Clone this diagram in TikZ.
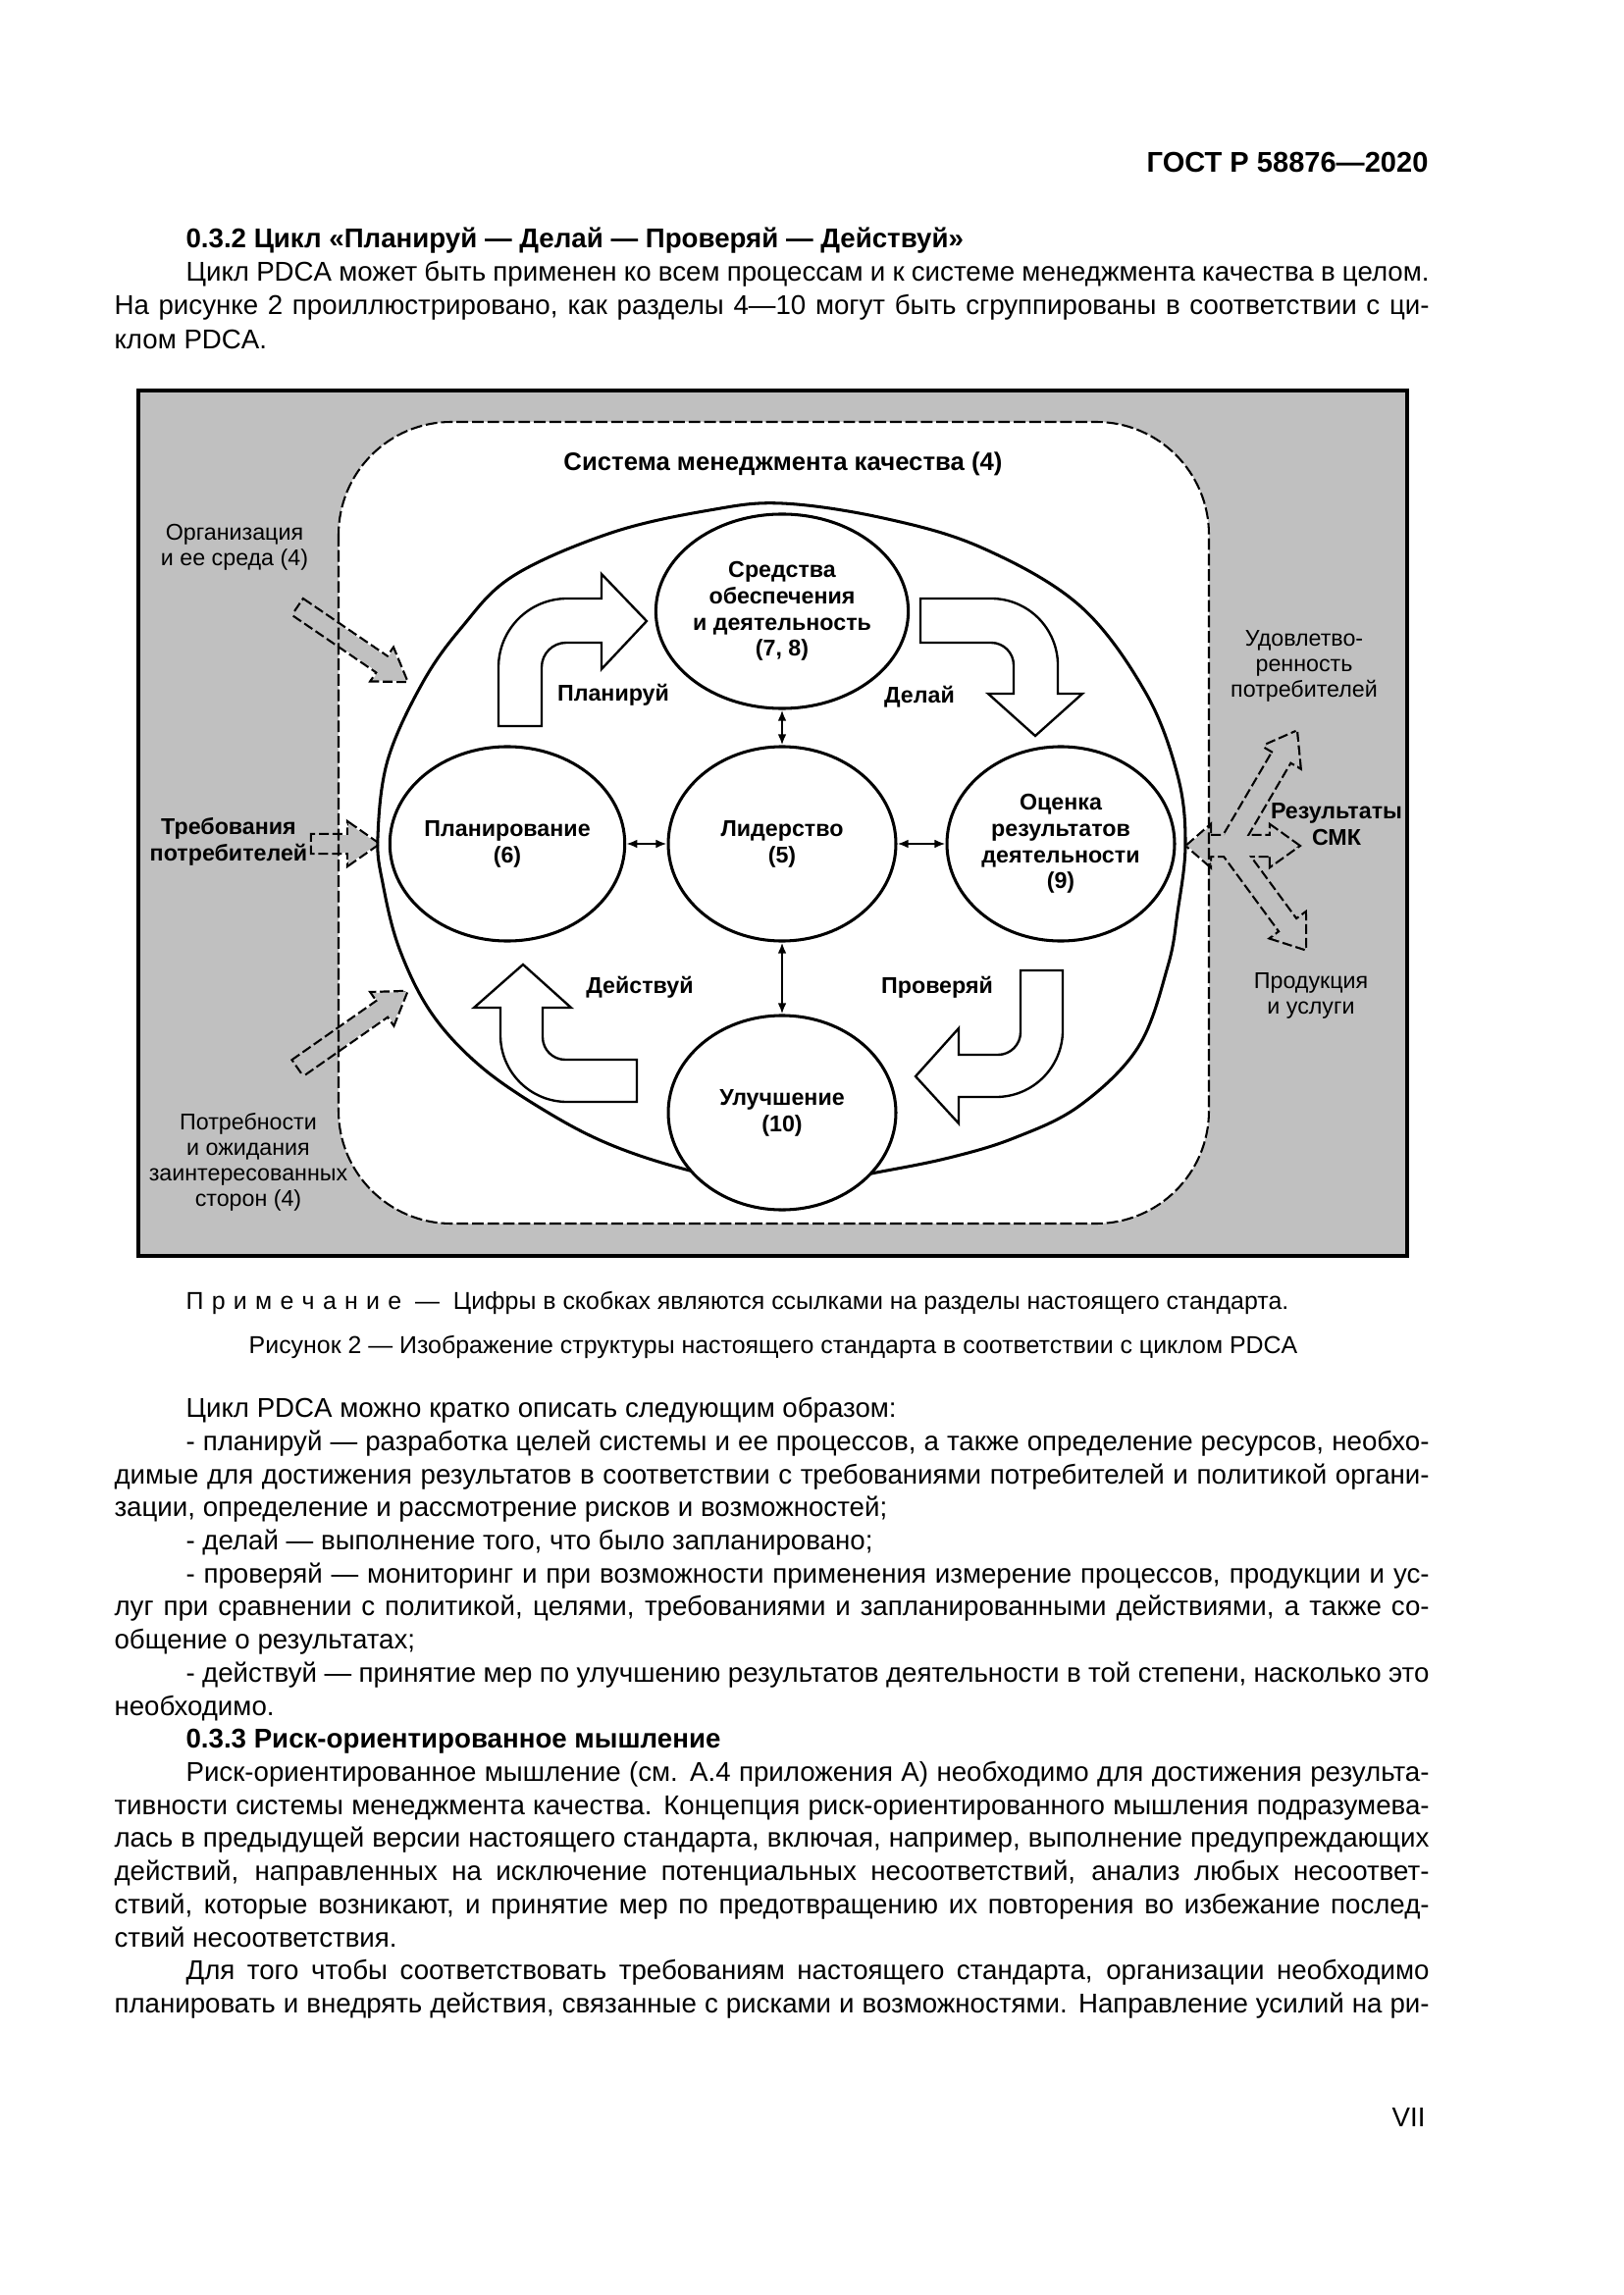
\documentclass[tikz,border=0pt]{standalone}
\usepackage{fontspec}
\setmainfont{Liberation Sans}
\usetikzlibrary{shapes.geometric,arrows.meta}
\definecolor{boxgray}{RGB}{192,192,192}
\newcommand\bodyfnt{\fontsize{10pt}{12pt}\selectfont}
\newcommand\dgb{\fontsize{8.4pt}{9.7pt}\selectfont\bfseries}
\newcommand\dgr{\fontsize{8.4pt}{9.4pt}\selectfont}
\newcommand\capfnt{\fontsize{9pt}{11pt}\selectfont}
\newcommand\gpoly[8]{\begin{scope}[shift={(#1,#2)},rotate=#3]\path[#8] (0,0) -- (-#7,#6) -- (-#7,#5) -- (-#4,#5) -- (-#4,-#5) -- (-#7,-#5) -- (-#7,-#6) -- cycle;\end{scope}}
\newcommand\jl[4]{\node[anchor=base west,inner sep=0pt,font=\bodyfnt] (#1) at (#2) {\hbox to #3{#4}};}
\newcommand\pl[3]{\node[anchor=base west,inner sep=0pt,font=\bodyfnt] (#1) at (#2) {#3};}
\newcommand\garrows[1]{%
  \gpoly{414}{694}{-34.3}{133}{9}{19}{29}{#1}
  \gpoly{385}{860}{0}{67}{9}{21}{30}{#1}
  \gpoly{414}{1011}{35}{134}{9}{19}{29}{#1}
  \gpoly{1321}{746}{59.6}{134}{10}{21}{29}{#1}
  \gpoly{1330}{967}{-53.7}{130}{10}{21}{29}{#1}
  \path[#1] (1210,862) -- (1233,842) -- (1233,852) -- (1295,852) -- (1295,842) -- (1323,862) -- (1295,882) -- (1295,872) -- (1233,872) -- (1233,882) -- cycle;}
\begin{document}
\begin{tikzpicture}[x=0.127mm,y=-0.127mm,
  nd/.style={ellipse,draw,line width=1.1pt,fill=white,minimum width=29.46mm,minimum height=25.15mm,inner sep=0pt,align=center,font=\dgb},
  lblb/.style={align=center,inner sep=0pt,font=\dgb},
  lblr/.style={align=center,inner sep=0pt,font=\dgr},
  dbl/.style={{Latex[length=1.4mm,width=1.1mm]}-{Latex[length=1.4mm,width=1.1mm]},line width=0.75pt},
  blk/.style={draw,line width=0.85pt,fill=white,line join=miter},
  gout/.style={draw,line width=1.6pt,dash pattern=on 3.6pt off 1.4pt},
  gfill/.style={fill=boxgray}]
\useasboundingbox (0,0) rectangle (1654,2339);
\fill[white] (0,0) rectangle (1654,2339);
% frame
\draw[line width=1.4pt,fill=boxgray] (141,398) rectangle (1434,1280);
\fill[white,rounded corners=14.6mm] (345,430) rectangle (1232,1247);
% gray block arrows
\garrows{gout}
\garrows{gfill}
\draw[line width=0.75pt,dash pattern=on 4.3pt off 1.4pt,rounded corners=14.6mm] (345,430) rectangle (1232,1247);
% big oval
\draw[line width=1.1pt] plot[smooth cycle,tension=0.6] coordinates {(797,513) (900,528) (1000,558) (1100,617) (1167,705) (1200,790) (1208,860) (1200,930) (1190,985) (1160,1067) (1100,1127) (1033,1160) (967,1180) (893,1195) (797,1212) (703,1193) (623,1167) (557,1133) (490,1087) (440,1033) (407,967) (390,900) (385,853) (395,775) (430,697) (470,640) (523,587) (623,543) (723,520)};
% PDCA arrows
\draw[blk] (508,740) -- (508,680) .. controls (508,641.3) and (539.3,610) .. (578,610) -- (613,610) -- (613,585) -- (659,633) -- (613,682) -- (613,655) -- (577,655) .. controls (563.2,655) and (552,666.2) .. (552,680) -- (552,740) -- cycle;
\draw[blk] (938,610) -- (1010,610) .. controls (1047.6,610) and (1078,640.4) .. (1078,678) -- (1078,707) -- (1103,707) -- (1055,750) -- (1007,707) -- (1033,707) -- (1033,678) .. controls (1033,665.3) and (1022.7,655) .. (1010,655) -- (938,655) -- cycle;
\draw[blk] (649,1123) -- (578,1123) .. controls (540.4,1123) and (510,1092.6) .. (510,1055) -- (510,1027) -- (483,1027) -- (533,983) -- (582,1027) -- (553,1027) -- (553,1057) .. controls (553,1069.7) and (563.3,1080) .. (576,1080) -- (649,1080) -- cycle;
\draw[blk] (1040,989) -- (1083,989) -- (1083,1050) .. controls (1083,1087.6) and (1052.6,1118) .. (1015,1118) -- (977,1118) -- (977,1145) -- (933,1097) -- (977,1048) -- (977,1075) -- (1017,1075) .. controls (1029.7,1075) and (1040,1064.7) .. (1040,1052) -- cycle;
% process nodes
\node[nd] (res) at (797,623) {Средства\\обеспечения\\и деятельность\\(7, 8)};
\node[nd] (plan) at (517,860) {Планирование\\(6)};
\node[nd] (lead) at (797,860) {Лидерство\\(5)};
\node[nd] (eval) at (1081,860) {Оценка\\результатов\\деятельности\\(9)};
\node[nd] (impr) at (797,1134) {Улучшение\\(10)};
\draw[dbl] (res) -- (lead);
\draw[dbl] (plan) -- (lead);
\draw[dbl] (lead) -- (eval);
\draw[dbl] (lead) -- (impr);
% labels
\node[align=center,inner sep=0pt,font=\fontsize{9.3pt}{11pt}\selectfont\bfseries] (sys) at (798,473) {Система менеджмента качества (4)};
\node[lblr] (org) at (239,558) {Организация\\и ее среда (4)};
\node[lblb] (treb) at (233,858) {Требования\\потребителей};
\node[lblr] (potr) at (253,1184) {Потребности\\и ожидания\\заинтересованных\\сторон (4)};
\node[lblr] (udov) at (1329,679) {Удовлетво-\\ренность\\потребителей};
\node[lblb] (rez) at (1362,840) {Результаты\\СМК};
\node[lblr] (prod) at (1336,1015) {Продукция\\и услуги};
\node[lblb] (lp) at (625,708) {Планируй};
\node[lblb] (ld) at (937,710) {Делай};
\node[lblb] (la) at (652,1006) {Действуй};
\node[lblb] (lc) at (955,1006) {Проверяй};
% page text
\node[anchor=base east,inner sep=0pt,font=\fontsize{10.5pt}{12pt}\selectfont\bfseries] (hdr) at (1456,176) {ГОСТ Р 58876—2020};
\pl{t1}{189,253}{\bfseries 0.3.2 Цикл «Планируй — Делай — Проверяй — Действуй»}
\jl{t2}{189,287}{160.9mm}{Цикл PDCA может быть применен ко всем процессам и к системе менеджмента качества в целом.}
\jl{t3}{116,321}{170.18mm}{На рисунке 2 проиллюстрировано, как разделы 4—10 могут быть сгруппированы в соответствии с ци-}
\pl{t4}{116,356}{клом PDCA.}
\node[anchor=base west,inner sep=0pt,font=\capfnt] (note) at (189,1334) {П\kern3pt р\kern3pt и\kern3pt м\kern3pt е\kern3pt ч\kern3pt а\kern3pt н\kern3pt и\kern3pt е \ — \ Цифры в скобках являются ссылками на разделы настоящего стандарта.};
\node[anchor=base,inner sep=0pt,font=\capfnt] (cap) at (788,1379) {Рисунок 2 — Изображение структуры настоящего стандарта в соответствии с циклом PDCA};
\pl{b0}{189,1444}{Цикл PDCA можно кратко описать следующим образом:}
\jl{b1}{189,1478}{160.9mm}{- планируй — разработка целей системы и ее процессов, а также определение ресурсов, необхо-}
\jl{b2}{116,1512}{170.18mm}{димые для достижения результатов в соответствии с требованиями потребителей и политикой органи-}
\pl{b3}{116,1545}{зации, определение и рассмотрение рисков и возможностей;}
\pl{b4}{189,1579}{- делай — выполнение того, что было запланировано;}
\jl{b5}{189,1613}{160.9mm}{- проверяй — мониторинг и при возможности применения измерение процессов, продукции и ус-}
\jl{b6}{116,1646}{170.18mm}{луг при сравнении с политикой, целями, требованиями и запланированными действиями, а также со-}
\pl{b7}{116,1680}{общение о результатах;}
\jl{b8}{189,1714}{160.9mm}{- действуй — принятие мер по улучшению результатов деятельности в той степени, насколько это}
\pl{b9}{116,1748}{необходимо.}
\pl{b10}{189,1781}{\bfseries 0.3.3 Риск-ориентированное мышление}
\jl{b11}{189,1815}{160.9mm}{Риск-ориентированное мышление (см. А.4 приложения А) необходимо для достижения результа-}
\jl{b12}{116,1849}{170.18mm}{тивности системы менеджмента качества. Концепция риск-ориентированного мышления подразумева-}
\jl{b13}{116,1882}{170.18mm}{лась в предыдущей версии настоящего стандарта, включая, например, выполнение предупреждающих}
\jl{b14}{116,1916}{170.18mm}{действий, направленных на исключение потенциальных несоответствий, анализ любых несоответ-}
\jl{b15}{116,1950}{170.18mm}{ствий, которые возникают, и принятие мер по предотвращению их повторения во избежание послед-}
\pl{b16}{116,1984}{ствий несоответствия.}
\jl{b17}{189,2017}{160.9mm}{Для того чтобы соответствовать требованиям настоящего стандарта, организации необходимо}
\jl{b18}{116,2051}{170.18mm}{планировать и внедрять действия, связанные с рисками и возможностями. Направление усилий на ри-}
\node[anchor=base east,inner sep=0pt,font=\bodyfnt] (pg) at (1453,2167) {VII};
\end{tikzpicture}
\end{document}
